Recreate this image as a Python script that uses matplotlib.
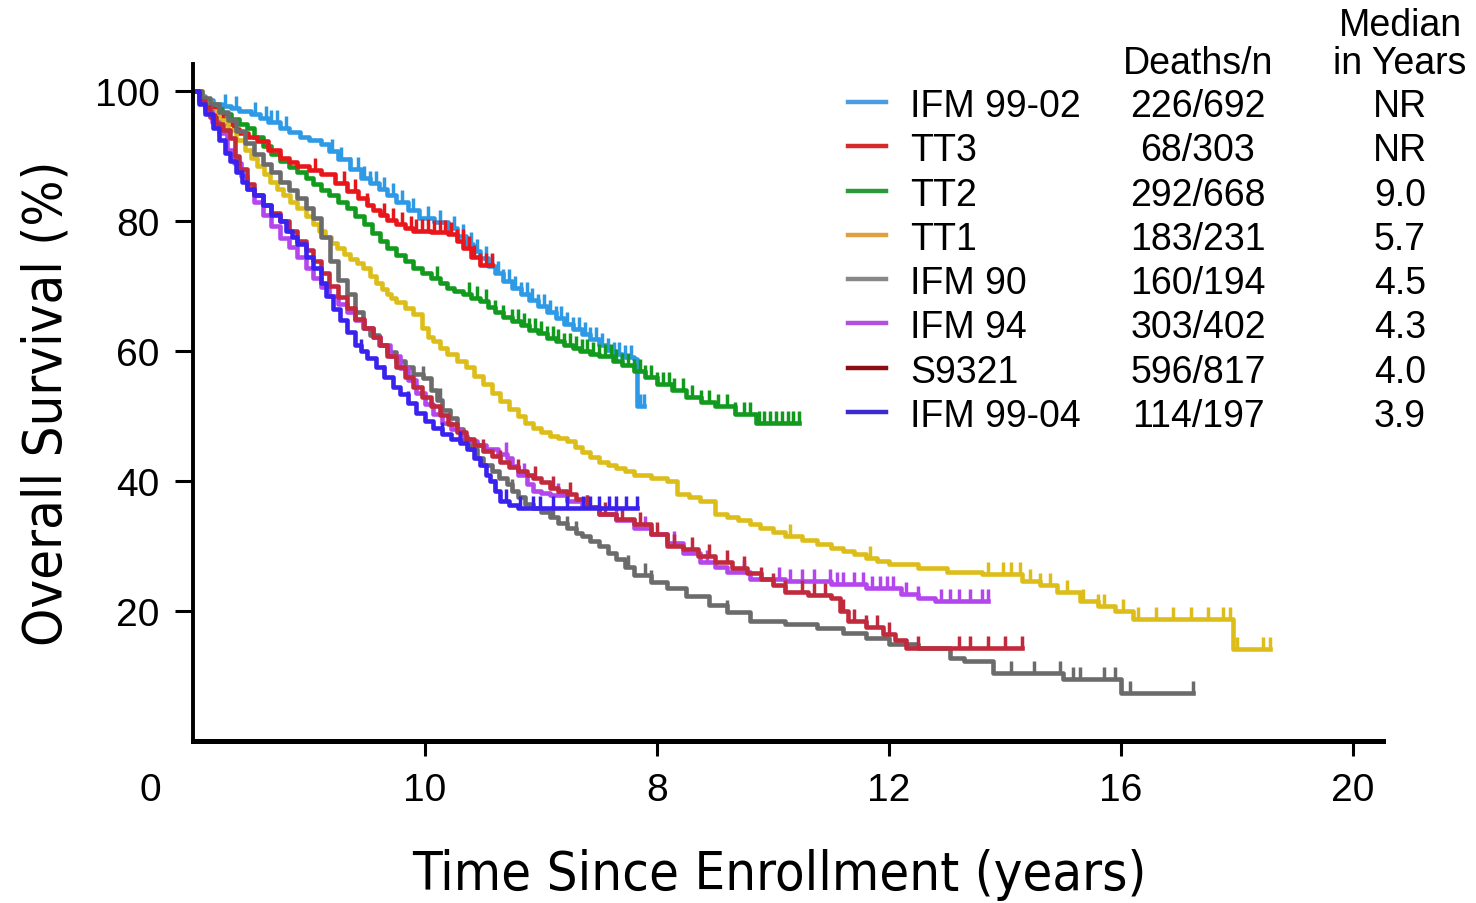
import numpy as np
import matplotlib
matplotlib.use("Agg")
import matplotlib.pyplot as plt
from matplotlib.path import Path
from matplotlib.lines import Line2D

# Kaplan-Meier step points (years, % alive) per trial
ifm9902 = [(0, 100), (0.1, 99.3), (0.2, 98.6), (0.35, 98), (0.5, 97.7), (0.65, 97.4),
           (0.8, 97), (1.0, 96.5), (1.15, 95.9), (1.3, 95.2), (1.5, 94.3), (1.65, 93.7),
           (1.85, 93), (2.0, 92.5), (2.2, 91.8), (2.35, 90.7), (2.5, 89.5), (2.7, 88),
           (2.9, 86.6), (3.05, 85.8), (3.2, 85), (3.35, 84), (3.5, 83), (3.7, 81.7),
           (3.9, 80.5), (4.15, 79.8), (4.4, 79), (4.55, 77.7), (4.7, 76.5), (4.82, 75.4),
           (4.95, 74.3), (5.08, 73.1), (5.2, 72), (5.35, 70.8), (5.5, 69.7), (5.65, 68.7),
           (5.8, 67.8), (5.95, 66.9), (6.1, 66), (6.25, 65.1), (6.4, 64.2), (6.55, 63.4),
           (6.7, 62.6), (6.85, 61.8), (7.0, 61), (7.12, 60.2), (7.25, 59.5), (7.4, 59.1),
           (7.6, 58.8), (7.65, 51.5), (7.78, 51.5)]
cens_ifm9902 = [0.55, 0.75, 1.07, 1.25, 1.35, 1.45, 1.6, 2.4, 2.55, 2.7, 2.85, 2.95, 3.05,
                3.15, 3.3, 3.45, 3.6, 3.8, 4.05, 4.25, 4.5, 4.65, 4.8, 4.9, 5.05, 5.15, 5.25,
                5.35, 5.45, 5.55, 5.65, 5.75, 5.85, 5.95, 6.05, 6.15, 6.25, 6.35, 6.45, 6.55,
                6.65, 6.75, 6.85, 6.95, 7.05, 7.15, 7.25, 7.35, 7.45, 7.55, 7.7, 7.78]

tt3 = [(0, 100), (0.1, 99), (0.2, 98), (0.3, 97.2), (0.4, 96.5), (0.5, 95.7), (0.6, 95),
       (0.7, 94.2), (0.8, 93.5), (0.95, 92.9), (1.1, 92.3), (1.3, 91), (1.5, 89.7),
       (1.65, 89.1), (1.8, 88.5), (2.0, 87.8), (2.2, 87.2), (2.45, 85.9), (2.65, 84.6),
       (2.85, 83.5), (3.0, 82.5), (3.1, 81.7), (3.22, 81), (3.35, 80.2), (3.5, 79.5),
       (3.65, 79), (3.8, 78.5), (4.1, 78.3), (4.4, 78), (4.55, 77), (4.66, 75.9),
       (4.8, 74.5), (4.95, 73.2), (5.15, 73.2)]
cens_tt3 = [2.1, 2.6, 2.8, 3.0, 3.3, 3.45, 3.6, 3.75, 3.85, 3.95, 4.05, 4.15, 4.25, 4.35,
            4.45, 4.55, 4.65, 4.75, 4.85, 4.95, 5.05, 5.15]

tt2 = [(0, 100), (0.1, 99), (0.2, 98), (0.35, 97.2), (0.5, 96.5), (0.65, 95.7), (0.8, 95),
       (0.93, 94.3), (1.05, 93), (1.2, 91.5), (1.35, 90.3), (1.5, 89.2), (1.65, 88.3),
       (1.8, 87.5), (1.95, 86.6), (2.07, 85.7), (2.2, 84.8), (2.35, 84), (2.5, 83),
       (2.65, 82), (2.8, 80.8), (2.95, 79.5), (3.08, 78.2), (3.22, 76.9), (3.35, 75.8),
       (3.5, 74.8), (3.65, 73.8), (3.8, 72.8), (3.95, 72), (4.1, 71.2), (4.25, 70.4),
       (4.38, 69.7), (4.5, 69.2), (4.65, 68.7), (4.8, 68.2), (4.95, 67.7), (5.08, 66.8),
       (5.2, 66), (5.35, 65.3), (5.5, 64.6), (5.65, 64), (5.8, 63.3), (5.95, 62.7),
       (6.1, 62), (6.25, 61.5), (6.4, 61), (6.55, 60.5), (6.67, 60), (6.85, 59.6),
       (7.0, 59.2), (7.24, 58.5), (7.4, 57.8), (7.6, 57), (7.8, 56), (8.0, 55),
       (8.25, 54), (8.5, 53), (8.75, 52.2), (9.0, 51.5), (9.35, 50.3), (9.7, 49),
       (10.45, 49)]
cens_tt2 = [4.2, 4.75, 4.9, 5.05, 5.2, 5.35, 5.5, 5.6, 5.7, 5.8, 5.9, 6.0, 6.1, 6.2, 6.3,
            6.4, 6.5, 6.6, 6.7, 6.8, 6.9, 7.0, 7.1, 7.2, 7.3, 7.4, 7.5, 7.6, 7.7, 7.8, 7.9,
            8.0, 8.1, 8.2, 8.3, 8.45, 8.6, 8.75, 8.9, 9.05, 9.2, 9.35, 9.5, 9.6, 9.75, 9.85,
            9.95, 10.05, 10.15, 10.25, 10.35, 10.45]

tt1 = [(0, 100), (0.15, 98.5), (0.3, 97), (0.45, 95.5), (0.6, 94), (0.75, 92.5), (0.9, 91),
       (1.0, 89.7), (1.1, 88.5), (1.22, 87.2), (1.33, 86), (1.45, 85), (1.55, 84),
       (1.68, 83), (1.8, 82), (1.95, 80.7), (2.07, 79.5), (2.17, 78.5), (2.28, 77.5),
       (2.38, 76.6), (2.48, 75.8), (2.6, 75), (2.7, 74.2), (2.82, 73.5), (2.93, 72.8),
       (3.05, 71.6), (3.15, 70.5), (3.25, 69.6), (3.34, 68.7), (3.42, 68.1), (3.5, 67.5),
       (3.65, 66.6), (3.8, 65.7), (3.95, 63.5), (4.05, 62.2), (4.14, 61.5), (4.26, 60.5),
       (4.38, 59.5), (4.55, 58.5), (4.7, 57.5), (4.85, 56.2), (5.0, 55), (5.15, 53.6),
       (5.3, 52.3), (5.45, 51.1), (5.6, 50), (5.72, 49), (5.86, 48.2), (6.0, 47.6),
       (6.15, 47), (6.3, 46.6), (6.45, 46.2), (6.58, 45.3), (6.7, 44.5), (6.85, 43.7),
       (7.0, 43), (7.15, 42.5), (7.3, 42), (7.45, 41.5), (7.6, 41), (7.9, 40.5),
       (8.17, 40), (8.34, 38), (8.55, 37.5), (8.74, 37), (9.0, 35), (9.2, 34.5),
       (9.4, 34), (9.6, 33.4), (9.78, 32.8), (10.0, 32.2), (10.2, 31.5), (10.5, 30.9),
       (10.76, 30.3), (11.0, 29.7), (11.2, 29.2), (11.4, 28.7), (11.6, 28.2), (11.8, 27.7),
       (12.0, 27.2), (12.5, 26.6), (13.0, 26), (13.6, 25.7), (14.3, 24.6), (14.6, 24),
       (14.9, 23), (15.3, 21.5), (15.6, 20.7), (15.9, 20), (16.2, 18.8), (17.93, 14.1),
       (18.57, 14.1)]
cens_tt1 = [10.3, 11.67, 13.7, 13.97, 14.1, 14.26, 14.43, 14.6, 14.78, 15.07, 15.34, 15.6,
            15.7, 16.03, 16.3, 16.6, 16.9, 17.2, 17.5, 17.76, 17.88, 18.0, 18.45, 18.57]

ifm90 = [(0, 100), (0.15, 99), (0.3, 98), (0.45, 96.8), (0.6, 95.5), (0.75, 93.8), (0.9, 92),
         (1.05, 90.3), (1.2, 88.8), (1.35, 87.5), (1.5, 86), (1.65, 84.8), (1.8, 83.5),
         (1.95, 82), (2.07, 80.5), (2.2, 77.5), (2.36, 73.8), (2.5, 71), (2.65, 68.8),
         (2.8, 66), (2.93, 63.5), (3.05, 62.5), (3.2, 61), (3.35, 59.8), (3.5, 58.5),
         (3.65, 57.5), (3.8, 56.5), (3.97, 55.8), (4.1, 54), (4.2, 52.5), (4.3, 51),
         (4.43, 49.7), (4.55, 48), (4.65, 46.5), (4.78, 45), (4.9, 43.5), (5.0, 42.5),
         (5.15, 41.5), (5.28, 40.5), (5.41, 39.5), (5.5, 38.5), (5.6, 37.5), (5.72, 36.5),
         (5.86, 35.8), (6.0, 35.2), (6.15, 34.5), (6.3, 33.5), (6.45, 32.8), (6.6, 32),
         (6.7, 31.5), (6.85, 30.8), (7.0, 30), (7.15, 29), (7.3, 28), (7.45, 26.8),
         (7.6, 25.5), (7.9, 24.5), (8.17, 23.5), (8.5, 22.3), (8.9, 21), (9.2, 19.8),
         (9.6, 18.5), (10.2, 18), (10.76, 17.4), (11.2, 16.6), (11.6, 15.8), (12.0, 15),
         (12.5, 14.3), (13.05, 12.8), (13.3, 12.3), (13.8, 10.5), (15.0, 9.5), (16.0, 7.4),
         (17.24, 7.4)]
cens_ifm90 = [3.97, 4.26, 5.5, 6.2, 6.45, 6.6, 7.5, 7.8, 7.9, 9.2, 14.1, 14.5, 14.95, 15.17,
              15.3, 15.7, 15.9, 16.0, 16.15, 17.24]

ifm94 = [(0, 100), (0.1, 98.5), (0.2, 97), (0.33, 95.3), (0.45, 93.5), (0.58, 91), (0.7, 89),
         (0.82, 87), (0.93, 85), (1.05, 83), (1.2, 81), (1.35, 79.2), (1.5, 77.4),
         (1.65, 76), (1.8, 74.5), (1.95, 72.8), (2.07, 71.2), (2.2, 69.8), (2.35, 68.5),
         (2.5, 67.2), (2.65, 66), (2.8, 64.8), (2.95, 63.5), (3.1, 62.2), (3.22, 61),
         (3.4, 59.2), (3.57, 57.4), (3.7, 55.5), (3.85, 53.5), (4.0, 51.8), (4.14, 50.3),
         (4.3, 49), (4.45, 48), (4.6, 47), (4.72, 46.2), (4.9, 45.5), (5.05, 45),
         (5.25, 44.2), (5.41, 43.5), (5.5, 42.3), (5.6, 41), (5.75, 39.5), (5.86, 38.5),
         (6.0, 38.2), (6.15, 37.8), (6.45, 37), (6.7, 36), (7.0, 35), (7.3, 34),
         (7.6, 32.8), (7.9, 31.8), (8.17, 30.5), (8.45, 29), (8.74, 27.5), (9.0, 26.7),
         (9.2, 26), (9.6, 25), (10.2, 24.6), (11.0, 24.1), (11.6, 23.5), (12.2, 22.6),
         (12.5, 22), (12.8, 21.5), (13.7, 21.5)]
cens_ifm94 = [5.4, 5.7, 6.3, 6.8, 7.3, 7.8, 8.3, 8.86, 9.5, 10.1, 10.3, 10.5, 10.7, 10.98,
              11.1, 11.2, 11.4, 11.55, 11.7, 11.85, 11.96, 12.07, 12.3, 12.5, 12.9, 13.05,
              13.2, 13.4, 13.6, 13.7]

s9321 = [(0, 100), (0.1, 98.5), (0.2, 97.5), (0.3, 96), (0.4, 95), (0.52, 94), (0.64, 92.8),
         (0.72, 90), (0.8, 88), (0.93, 85.7), (1.05, 84), (1.2, 82.5), (1.35, 81.2),
         (1.5, 80), (1.65, 78.5), (1.8, 77), (1.95, 75.5), (2.07, 73.8), (2.2, 72),
         (2.35, 70), (2.5, 68.3), (2.65, 66.6), (2.8, 65), (2.95, 63.5), (3.1, 62.2),
         (3.22, 61), (3.35, 59.3), (3.5, 57.5), (3.65, 56), (3.8, 54.5), (3.95, 53),
         (4.1, 51.5), (4.25, 50.2), (4.4, 48.8), (4.55, 47.5), (4.7, 46.5), (4.85, 45.5),
         (5.0, 44.6), (5.15, 43.8), (5.3, 43), (5.45, 42.2), (5.6, 41.5), (5.75, 41),
         (5.86, 40.5), (6.0, 39.8), (6.15, 39), (6.3, 38.5), (6.45, 38), (6.6, 37.2),
         (6.8, 36), (7.0, 35), (7.3, 34.2), (7.6, 33.4), (7.9, 31.8), (8.17, 30),
         (8.45, 29.5), (8.7, 28.5), (9.0, 27.5), (9.3, 26.6), (9.55, 25.8), (9.8, 25),
         (10.0, 24), (10.2, 23), (10.6, 22.5), (11.0, 22), (11.15, 20), (11.3, 18.5),
         (11.6, 17.5), (11.9, 16.5), (12.1, 15.5), (12.3, 14.3), (14.3, 14.3)]
cens_s9321 = [5.0, 5.3, 5.6, 5.9, 6.2, 6.5, 6.8, 7.1, 7.4, 7.7, 8.0, 8.3, 8.6, 8.9, 9.2,
              9.5, 9.8, 10.0, 10.2, 10.5, 10.7, 10.9, 11.2, 11.4, 11.6, 11.8, 12.0, 12.5,
              13.2, 13.4, 13.7, 14.0, 14.3]

ifm9904 = [(0, 100), (0.1, 98), (0.2, 96.5), (0.34, 94.3), (0.45, 92.5), (0.55, 90.5),
           (0.64, 89.2), (0.75, 87.5), (0.85, 86), (0.93, 85), (1.05, 84), (1.2, 82.5),
           (1.35, 81), (1.5, 80), (1.6, 78.5), (1.7, 77.5), (1.8, 76.5), (1.95, 74.5),
           (2.07, 72.8), (2.2, 70.5), (2.3, 68.5), (2.41, 66.5), (2.53, 64.8), (2.65, 63),
           (2.8, 61), (2.9, 60), (3.0, 59), (3.15, 57.5), (3.3, 56), (3.45, 54.5),
           (3.57, 53.4), (3.7, 52), (3.85, 50.5), (4.0, 49.3), (4.14, 48.2), (4.3, 47.2),
           (4.45, 46.5), (4.6, 45.8), (4.72, 45), (4.85, 43.5), (4.95, 42.5), (5.05, 41),
           (5.12, 40), (5.2, 38.5), (5.3, 37), (5.45, 36.3), (5.6, 35.8), (7.66, 35.8)]
cens_ifm9904 = [2.9, 3.3, 3.7, 4.3, 4.6, 5.2, 5.4, 5.64, 5.86, 5.98, 6.2, 6.45, 6.72, 6.85,
                7.0, 7.17, 7.29, 7.47, 7.66]

# legend table
names = ["IFM 99-02", "TT3", "TT2", "TT1", "IFM 90", "IFM 94", "S9321", "IFM 99-04"]
deaths = ["226/692", "68/303", "292/668", "183/231", "160/194", "303/402", "596/817", "114/197"]
medians = ["NR", "NR", "9.0", "5.7", "4.5", "4.3", "4.0", "3.9"]

xtick_pos = [4, 8, 12, 16, 20]
xtick_labels = ["10", "8", "12", "16", "20"]
ytick_pos = [20, 40, 60, 80, 100]

curve_colors = ["#2e9ae6", "#e8161b", "#129a1e", "#dcbd1a", "#6b6b6b", "#b446ee", "#c02a3c", "#3a22ee"]
key_colors = ["#4a9be0", "#d42a2a", "#2a9a3a", "#e0a040", "#888888", "#b050e0", "#8b0d12", "#3a2ad0"]

# drawing order, back to front
series = [
    (ifm9902, cens_ifm9902, 0),
    (tt2, cens_tt2, 2),
    (tt3, cens_tt3, 1),
    (tt1, cens_tt1, 3),
    (ifm90, cens_ifm90, 4),
    (ifm94, cens_ifm94, 5),
    (s9321, cens_s9321, 6),
    (ifm9904, cens_ifm9904, 7),
]

plt.rcParams['font.family'] = ['Liberation Sans', 'DejaVu Sans']
title_font = dict(family=['DejaVu Sans'], stretch='condensed')

fig = plt.figure(figsize=(14.76, 9.04), dpi=100)
ax = fig.add_axes([193 / 1476, 1 - 742 / 904, 1190 / 1476, 677 / 904])

# censor tick: short vertical stroke going up from the curve
tick_mark = Path([(0, 0), (0, 1)], [Path.MOVETO, Path.LINETO])

for pts, cens, ci in series:
    t = np.array([p[0] for p in pts])
    s = np.array([p[1] for p in pts])
    ax.step(t, s, where='post', color=curve_colors[ci], lw=3.3)
    c = np.array(cens)
    idx = np.searchsorted(t, c, side='right') - 1
    ax.plot(c, s[idx], ls='none', marker=tick_mark, markersize=18,
            markeredgewidth=2.5, color=curve_colors[ci])

ax.set_xlim(0, 1190 / 58)
ax.set_ylim(0, 677 / 6.5)
for side in ['top', 'right']:
    ax.spines[side].set_visible(False)
ax.spines['left'].set_linewidth(2.8)
ax.spines['bottom'].set_linewidth(3.6)

ax.set_xticks(xtick_pos)
ax.set_xticklabels(xtick_labels)
ax.set_yticks(ytick_pos)
ax.tick_params(axis='x', length=11, width=2.2, pad=11, labelsize=28)
ax.tick_params(axis='y', length=13, width=2.2, pad=11, labelsize=28)
ax.annotate("0", xy=(-0.74, 0), xycoords=ax.get_xaxis_transform(),
            xytext=(0, -22), textcoords='offset points', ha='center', va='top',
            fontsize=28, annotation_clip=False)

ax.set_xlabel("Time Since Enrollment (years)", fontsize=39, **title_font)
ax.xaxis.set_label_coords(0.493, -0.158)
ax.set_ylabel("Overall Survival (%)", fontsize=39, labelpad=16, **title_font)

# pixel-space overlay for the legend table
ov = fig.add_axes([0, 0, 1, 1])
ov.set_xlim(0, 1476)
ov.set_ylim(904, 0)
ov.axis('off')

row_y = [103, 147, 192, 236, 280, 324, 369, 413]
for i, name in enumerate(names):
    y = row_y[i]
    ov.add_line(Line2D([848, 886], [y, y], color=key_colors[i], lw=3.2))
    ov.text(910, y, name, fontsize=27, ha='left', va='center_baseline')
    ov.text(1198, y, deaths[i], fontsize=27, ha='center', va='center_baseline')
    ov.text(1400, y, medians[i], fontsize=27, ha='center', va='center_baseline')
ov.text(1198, 60, "Deaths/n", fontsize=27, ha='center', va='center_baseline')
ov.text(1400, 22, "Median", fontsize=27, ha='center', va='center_baseline')
ov.text(1400, 60, "in Years", fontsize=27, ha='center', va='center_baseline')

fig.savefig("out.png", dpi=100)
